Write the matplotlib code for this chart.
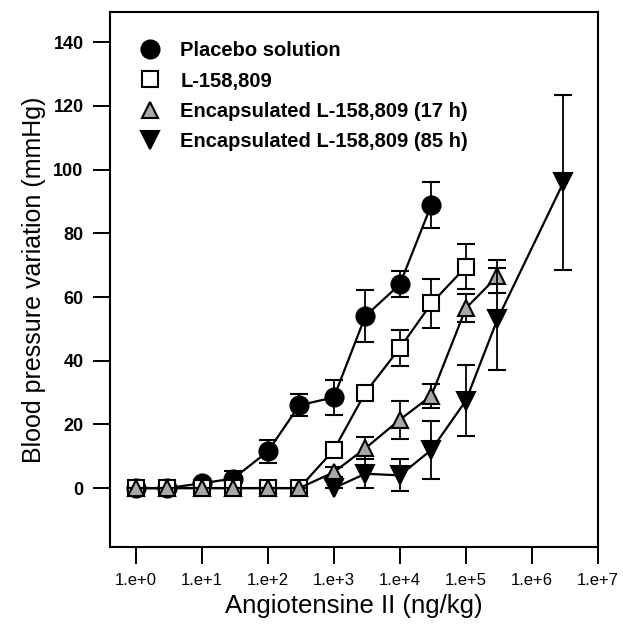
import matplotlib
matplotlib.use("Agg")
import matplotlib.pyplot as plt
from matplotlib.lines import Line2D

plt.rcParams['font.family'] = ['Liberation Sans', 'DejaVu Sans']

# ---- data ----
placebo_dose = [1, 3, 10, 30, 100, 300, 1000, 3000, 10000, 30000]
placebo_bp = [0, 0, 1.5, 3, 11.5, 26, 28.5, 54, 64, 89]
placebo_err = [0.5, 0.5, 1, 2.5, 3.7, 3.4, 5.4, 8.2, 4.1, 7.2]

l158_dose = [1, 3, 10, 30, 100, 300, 1000, 3000, 10000, 30000, 100000]
l158_bp = [0, 0, 0, 0, 0, 0, 12, 30, 44, 58, 69.5]
l158_err = [0, 0, 0, 0, 0, 0, 1.5, 2, 5.6, 7.7, 7]

enc17_dose = [1, 3, 10, 30, 100, 300, 1000, 3000, 10000, 30000, 100000, 300000]
enc17_bp = [0, 0, 0, 0, 0, 0, 5, 12.5, 21.5, 29, 56.5, 66.5]
enc17_err = [0, 0, 0, 0, 0, 0, 1.5, 3.5, 6, 3.8, 4.5, 5.2]

enc85_dose = [1000, 3000, 10000, 30000, 100000, 300000, 3000000]
enc85_bp = [0, 4.5, 4, 12, 27.5, 53, 96]
enc85_err = [0, 4.5, 5, 9, 11, 16, 27.5]

labels = ['Placebo solution', 'L-158,809',
          'Encapsulated L-158,809 (17 h)', 'Encapsulated L-158,809 (85 h)']
xticks = [1e0, 1e1, 1e2, 1e3, 1e4, 1e5, 1e6, 1e7]
xticklabels = ['1.e+0', '1.e+1', '1.e+2', '1.e+3', '1.e+4', '1.e+5', '1.e+6', '1.e+7']
yticks = [0, 20, 40, 60, 80, 100, 120, 140]

fig = plt.figure(figsize=(6.23, 6.33), dpi=100)
ax = fig.add_axes([110/623, 1-547/633, (598-110)/623, (547-12)/633])

common = dict(color='black', lw=1.6, elinewidth=1.3, capsize=6.5, capthick=1.3,
              markeredgecolor='black', markeredgewidth=1.5)

styles = [('o', 13, 'black'), ('s', 11, 'white'), ('^', 12, '#a8a8a8'), ('v', 13, 'black')]
series = [(placebo_dose, placebo_bp, placebo_err),
          (l158_dose, l158_bp, l158_err),
          (enc17_dose, enc17_bp, enc17_err),
          (enc85_dose, enc85_bp, enc85_err)]

for i, ((xd, yd, ed), (m, ms, fc)) in enumerate(zip(series, styles)):
    ax.errorbar(xd, yd, yerr=ed, fmt='-' + m, ms=ms, mfc=fc, zorder=2 + i, **common)

ax.set_xscale('log')
ax.set_xlim(10**-0.39, 1e7)
ax.set_ylim(-18.5, 149.5)
ax.set_xticks(xticks)
ax.set_xticklabels(xticklabels, fontsize=12)
ax.minorticks_off()
ax.set_yticks(yticks)
ax.set_yticklabels([str(v) for v in yticks], fontsize=13, fontweight='bold')
ax.tick_params(axis='both', direction='out', length=12, width=1.4, pad=7)

for s in ax.spines.values():
    s.set_linewidth(1.5)

ax.set_xlabel('Angiotensine II (ng/kg)', fontsize=18.5, labelpad=4)
ax.set_ylabel('Blood pressure variation (mmHg)', fontsize=18, labelpad=5)

handles = [Line2D([], [], ls='none', marker=m, ms=ms, mfc=fc, mec='black', mew=1.5)
           for (m, ms, fc) in styles]
leg = ax.legend(handles, labels, loc='upper left', frameon=False, numpoints=1,
                prop={'weight': 'bold', 'size': 14.5}, handlelength=1.0,
                handletextpad=1.0, labelspacing=0.55, borderaxespad=0.0,
                bbox_to_anchor=(0.045, 0.96))

fig.savefig('out.png', dpi=100)
